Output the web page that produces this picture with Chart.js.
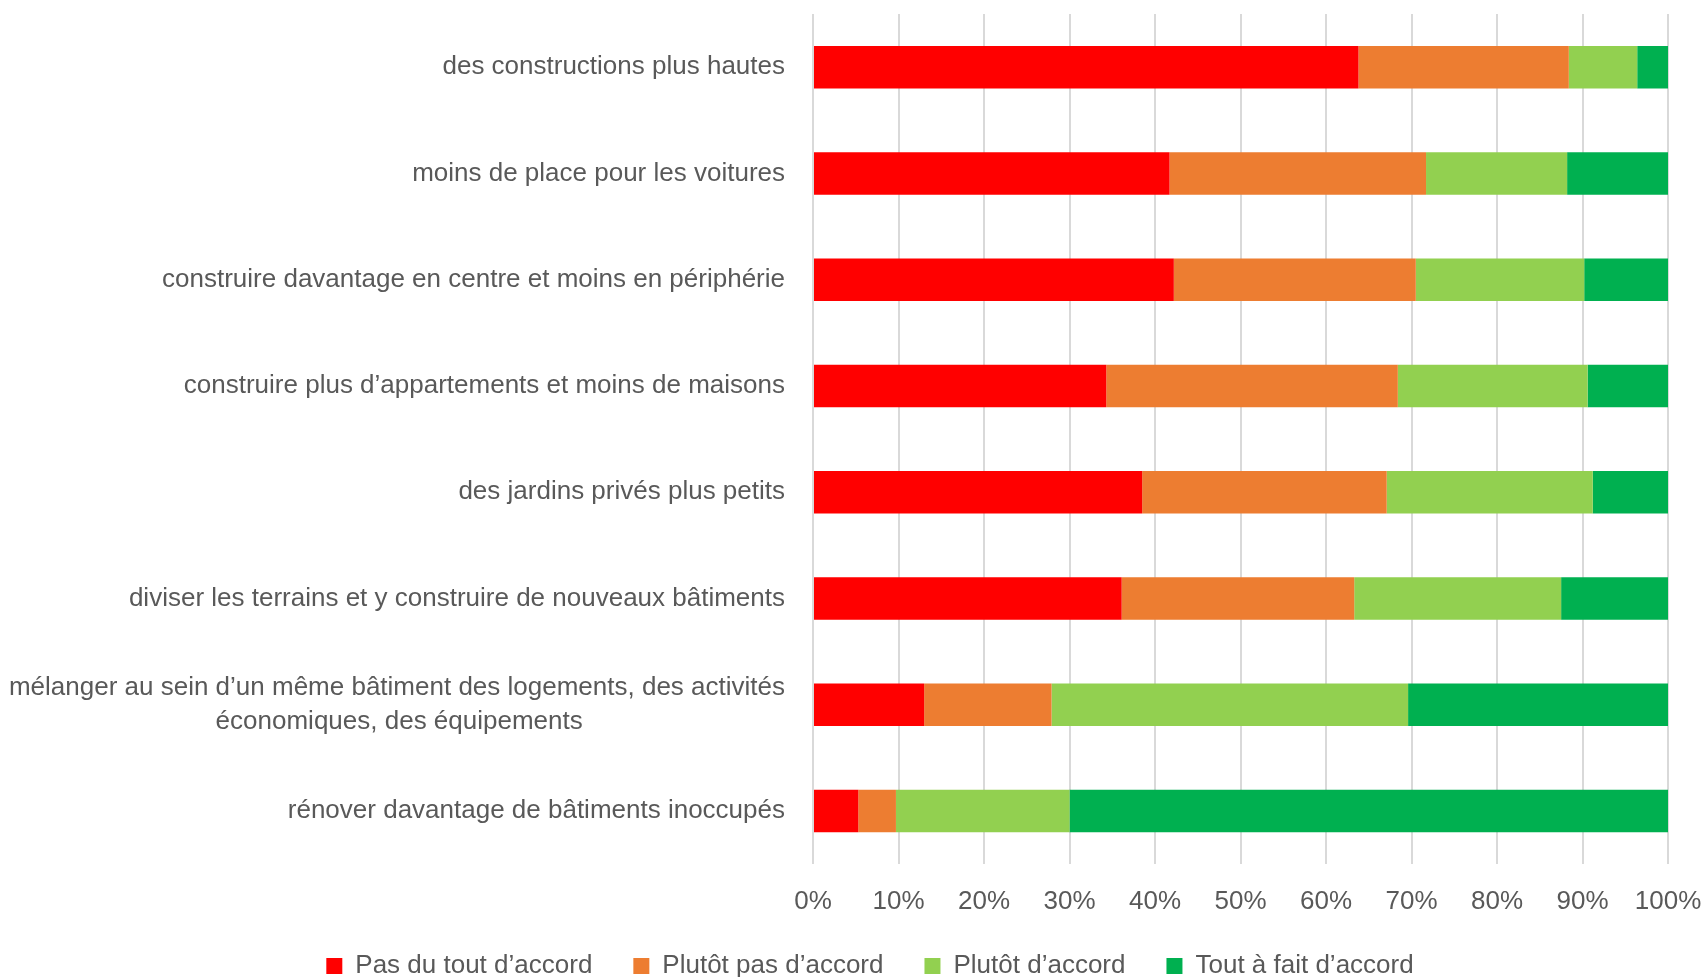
<!DOCTYPE html>
<html>
<head>
<meta charset="utf-8">
<script src="https://cdn.jsdelivr.net/npm/chart.js@4/dist/chart.umd.min.js"></script>
<style>
  html, body { margin: 0; padding: 0; background: #fff; }
  #wrap { width: 1704px; height: 977px; }
</style>
</head>
<body>
<div id="wrap"><canvas id="chart" width="1704" height="977"></canvas></div>
<script>
// questions (top to bottom)
const categories = [
    'des constructions plus hautes',
    'moins de place pour les voitures',
    'construire davantage en centre et moins en périphérie',
    'construire plus d’appartements et moins de maisons',
    'des jardins privés plus petits',
    'diviser les terrains et y construire de nouveaux bâtiments',
    ['mélanger au sein d’un même bâtiment des logements, des activités', 'économiques, des équipements'],
    'rénover davantage de bâtiments inoccupés'
];

const seriesNames = ['Pas du tout d’accord', 'Plutôt pas d’accord', 'Plutôt d’accord', 'Tout à fait d’accord'];

// shares in %
const pasDuTout = [63.8, 41.7, 42.2, 34.3, 38.5, 36.1, 13.0, 5.3];
const plutotPas = [24.6, 30.0, 28.3, 34.1, 28.6, 27.2, 14.9, 4.4];
const plutot    = [8.0, 16.5, 19.7, 22.2, 24.1, 24.2, 41.7, 20.3];
const toutAFait = [3.6, 11.8, 9.8, 9.4, 8.8, 12.5, 30.4, 70.0];

const xTicks = [0, 10, 20, 30, 40, 50, 60, 70, 80, 90, 100];

const colors = ['#FF0000', '#ED7D31', '#92D050', '#00B050'];
const textColor = '#595959';
const family = "'Liberation Sans', Arial, sans-serif";
const fontSize = 26;
const padLeft = 72;

const ctx = document.getElementById('chart').getContext('2d');

// centre the lines of a multi-line label on each other (padding with nbsp)
const measure = document.createElement('canvas').getContext('2d');
measure.font = fontSize + 'px ' + family;
function centerLines(label) {
    if (!Array.isArray(label)) return label;
    const widest = Math.max(...label.map(l => measure.measureText(l).width));
    const nb = measure.measureText('\u00A0').width;
    return label.map(l => {
        const n = Math.round((widest - measure.measureText(l).width) / 2 / nb);
        return l + '\u00A0'.repeat(n);
    });
}

const allSeries = [pasDuTout, plutotPas, plutot, toutAFait];

new Chart(ctx, {
    type: 'bar',
    data: {
        labels: categories,
        datasets: allSeries.map((d, i) => ({
            label: seriesNames[i],
            data: d,
            backgroundColor: colors[i],
            borderWidth: 0,
            barPercentage: 0.40,
            categoryPercentage: 1.0
        }))
    },
    options: {
        indexAxis: 'y',
        responsive: false,
        animation: false,
        layout: { padding: { top: 14, right: 36, bottom: -12, left: padLeft } },
        plugins: {
            tooltip: { enabled: false },
            legend: {
                position: 'bottom',
                labels: {
                    color: textColor,
                    font: { family: family, size: fontSize },
                    boxWidth: 16,
                    boxHeight: 16,
                    padding: 41
                }
            }
        },
        scales: {
            x: {
                stacked: true,
                min: 0,
                max: 100,
                afterBuildTicks: s => { s.ticks = xTicks.map(v => ({ value: v })); },
                ticks: {
                    color: textColor,
                    font: { family: family, size: fontSize },
                    padding: 22,
                    callback: v => v + '%'
                },
                grid: { color: '#D9D9D9', lineWidth: 2, drawTicks: false },
                border: { display: false },
                afterFit: s => {
                    s.height = 48;
                    s.paddingLeft = 0; s.paddingRight = 0;
                    s._computeLabelArea = () => undefined; // don't clip tick labels
                }
            },
            y: {
                stacked: true,
                ticks: {
                    color: textColor,
                    font: { family: family, size: fontSize, lineHeight: 1.33 },
                    padding: 28,
                    callback: function (v) { return centerLines(this.getLabelForValue(v)); }
                },
                grid: { display: false, drawTicks: false },
                border: { display: false },
                afterFit: s => {
                    s.width = 813 - padLeft;
                    s.paddingTop = 0; s.paddingBottom = 0;
                    s._computeLabelArea = () => undefined;
                }
            }
        }
    }
});
</script>
</body>
</html>
